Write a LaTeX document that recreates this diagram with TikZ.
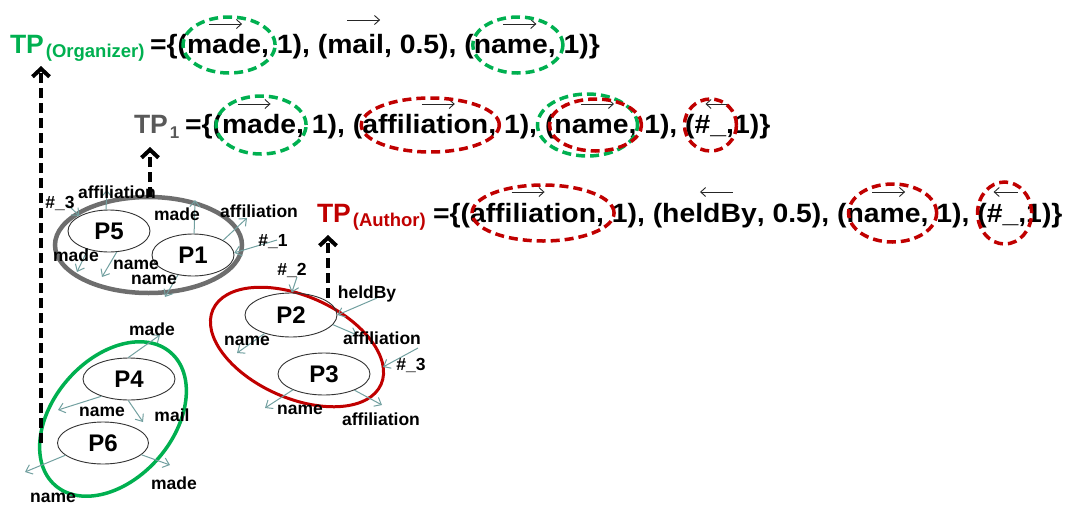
\documentclass[tikz,border=0pt]{standalone}
\usepackage{fontspec}
\setmainfont{Liberation Sans}
\newfontfamily\tfont[FakeStretch=1.07]{Liberation Sans}
\usetikzlibrary{arrows.meta,calc,shapes.geometric}
\definecolor{pgreen}{HTML}{00B050}
\definecolor{pred}{HTML}{C00000}
\definecolor{tpgray}{HTML}{595959}
\definecolor{grpgray}{HTML}{6E6E6E}
\definecolor{edgeteal}{HTML}{72A0A0}
\begin{document}
\begin{tikzpicture}[x=1pt,y=-1pt,
  main/.style={font=\tfont\bfseries\fontsize{26.5}{30}\selectfont, inner sep=0pt, outer sep=0pt, anchor=base west},
  tpbig/.style={font=\bfseries\fontsize{26.5}{30}\selectfont, inner sep=0pt, outer sep=0pt, anchor=base west},
  tpsub/.style={font=\bfseries\fontsize{18.5}{20}\selectfont, inner sep=0pt, outer sep=0pt, anchor=base west},
  lbl/.style={font=\bfseries\fontsize{17.5}{19}\selectfont, inner sep=0pt},
  pnode/.style={ellipse, draw=black!80, line width=0.9pt, inner sep=0pt, font=\bfseries\fontsize{24}{26}\selectfont},
  tarrow/.style={draw=edgeteal, line width=1pt, -{Straight Barb[length=6pt,width=10pt]}},
  warrow/.style={draw=black!85, line width=0.9pt, -{Straight Barb[length=5pt,width=9pt]}},
  darrow/.style={draw=black, line width=4pt, dash pattern=on 10pt off 5pt, -{Straight Barb[length=8pt,width=17pt]}},
  hlg/.style={draw=pgreen, line width=3.5pt, dash pattern=on 9pt off 5pt},
  hlr/.style={draw=pred, line width=3.5pt, dash pattern=on 9pt off 5pt},
  grp/.style={line width=3.5pt}
]
\useasboundingbox (0,0) rectangle (1068,509);

% ---------- line 1 ----------
\node[tpbig, text=pgreen] (tpO) at (10,53) {TP};
\node[tpsub, text=pgreen] (tpOs) at ($(tpO.base east)+(2,4)$) {(Organizer)};
\node[main] (l1a) at (150,53) {=\{(};
\node[main] (l1w1) at (l1a.base east) {made};
\node[main] (l1b) at (l1w1.base east) {, 1), (};
\node[main] (l1w2) at (l1b.base east) {mail};
\node[main] (l1c) at (l1w2.base east) {, 0.5), (};
\node[main] (l1w3) at (l1c.base east) {name};
\node[main] (l1d) at (l1w3.base east) {, 1)\}};
\draw[warrow] ($(l1w1.base)+(-15,-29)$) -- ($(l1w1.base)+(18,-29)$);
\draw[warrow] ($(l1w2.base)+(-8.5,-33)$) -- ($(l1w2.base)+(24.5,-33)$);
\draw[warrow] ($(l1w3.base)+(-7.5,-29)$) -- ($(l1w3.base)+(25.5,-29)$);
\draw[hlg] ($(l1w1.base)+(5,-8)$) ellipse [x radius=46pt, y radius=28pt];
\draw[hlg] ($(l1w3.base)+(7,-8)$) ellipse [x radius=45pt, y radius=28pt];

% ---------- line 2 ----------
\node[tpbig, text=tpgray] (tp1) at (134,133) {TP};
\node[tpsub, text=tpgray, font=\bfseries\fontsize{17}{19}\selectfont] (tp1s) at ($(tp1.base east)+(2,5)$) {1};
\node[main] (l2a) at (185,133) {=\{(};
\node[main] (l2w1) at (l2a.base east) {made};
\node[main] (l2b) at (l2w1.base east) {, 1), (};
\node[main] (l2w2) at (l2b.base east) {affiliation};
\node[main] (l2c) at (l2w2.base east) {, 1), (};
\node[main] (l2w3) at (l2c.base east) {name};
\node[main] (l2d) at (l2w3.base east) {, 1), (};
\node[main] (l2w4) at (l2d.base east) {\#\_};
\node[main] (l2e) at (l2w4.base east) {,1)\}};
\draw[warrow] ($(l2w1.base)+(-21.5,-29)$) -- ($(l2w1.base)+(11.5,-29)$);
\draw[warrow] ($(l2w2.base)+(-3.5,-29)$) -- ($(l2w2.base)+(29.5,-29)$);
\draw[warrow] ($(l2w3.base)+(-10.5,-29)$) -- ($(l2w3.base)+(22.5,-29)$);
\draw[warrow] ($(l2w4.base)+(19,-29)$) -- ($(l2w4.base)+(-5,-29)$);
\draw[hlg] ($(l2w1.base)+(2,-8)$) ellipse [x radius=45pt, y radius=29pt];
\draw[hlr] ($(l2w2.base)+(5,-8)$) ellipse [x radius=69pt, y radius=27pt];
\draw[hlg] ($(l2w3.base)+(-4,-8)$) ellipse [x radius=50pt, y radius=31pt];
\draw[hlr] ($(l2w3.base)+(4,-8)$) ellipse [x radius=46pt, y radius=26pt];
\draw[hlr] ($(l2w4.base)+(0,-8)$) ellipse [x radius=26pt, y radius=26pt];

% ---------- line 3 ----------
\node[tpbig, text=pred] (tpA) at (317,222) {TP};
\node[tpsub, text=pred] (tpAs) at ($(tpA.base east)+(2,4)$) {(Author)};
\node[main] (l3a) at (433,222) {=\{(};
\node[main] (l3w1) at (l3a.base east) {affiliation};
\node[main] (l3b) at (l3w1.base east) {, 1), (};
\node[main] (l3w2) at (l3b.base east) {heldBy};
\node[main] (l3c) at (l3w2.base east) {, 0.5), (};
\node[main] (l3w3) at (l3c.base east) {name};
\node[main] (l3d) at (l3w3.base east) {, 1), (};
\node[main] (l3w4) at (l3d.base east) {\#\_};
\node[main] (l3e) at (l3w4.base east) {,1)\}};
\draw[warrow] ($(l3w1.base)+(-21.5,-30)$) -- ($(l3w1.base)+(11.5,-30)$);
\draw[warrow] ($(l3w2.base)+(23.5,-30)$) -- ($(l3w2.base)+(-9.5,-30)$);
\draw[warrow] ($(l3w3.base)+(-11.5,-30)$) -- ($(l3w3.base)+(21.5,-30)$);
\draw[warrow] ($(l3w4.base)+(15,-30)$) -- ($(l3w4.base)+(-9,-30)$);
\draw[hlr] ($(l3w1.base)+(10,-9)$) ellipse [x radius=71pt, y radius=28pt];
\draw[hlr] ($(l3w3.base)+(9,-9)$) ellipse [x radius=44pt, y radius=29pt];
\draw[hlr] ($(l3w4.base)+(2,-9)$) ellipse [x radius=27pt, y radius=31pt];

% ---------- groups ----------
\draw[grp, draw=grpgray, line width=4.5pt] (148.5,245) ellipse [x radius=93.5pt, y radius=48pt];
\draw[grp, draw=pred, line width=3pt] (297,347) ellipse [x radius=92pt, y radius=51pt, rotate=-24];
\draw[grp, draw=pgreen] (113,419) ellipse [x radius=88pt, y radius=60pt, rotate=49];

% ---------- P nodes ----------
\node[pnode, minimum width=82pt, minimum height=42pt] (P5) at (109,231) {P5};
\node[pnode, minimum width=82pt, minimum height=42pt] (P1) at (193,255) {P1};
\node[pnode, minimum width=92pt, minimum height=44pt] (P2) at (291,315) {P2};
\node[pnode, minimum width=92pt, minimum height=42pt] (P3) at (324,374) {P3};
\node[pnode, minimum width=92pt, minimum height=42pt] (P4) at (129,379) {P4};
\node[pnode, minimum width=91pt, minimum height=42pt] (P6) at (103,443) {P6};

% ---------- dashed arrows ----------
\coordinate (d1s) at (41,443); \coordinate (d1e) at (41,66);
\coordinate (d2s) at (150,197); \coordinate (d2e) at (150,147);
\coordinate (d3s) at (328,298); \coordinate (d3e) at (328,235);
\draw[darrow] (d1s) -- (d1e);
\draw[darrow] (d2s) -- (d2e);
\draw[darrow] (d3s) -- (d3e);

% ---------- thin edges ----------
\coordinate (e1) at (68,205);
\coordinate (e2) at (107,190);
\coordinate (e3) at (195,200);
\coordinate (e4) at (247,218);
\coordinate (e5) at (277,240);
\coordinate (e6) at (77,272);
\coordinate (e7) at (102,277);
\coordinate (e8) at (165,297);
\coordinate (e9) at (297,277);
\coordinate (e10) at (377,298);
\coordinate (e11) at (357,335);
\coordinate (e12) at (237,353);
\coordinate (e13a) at (418,348);
\coordinate (e13b) at (383,367);
\coordinate (e14) at (265,408);
\coordinate (e15) at (382,405);
\coordinate (e16) at (160,335);
\coordinate (e17) at (58,410);
\coordinate (e18) at (143,422);
\coordinate (e19) at (25,472);
\coordinate (e20) at (170,465);
\draw[tarrow] (e1) -- (P5.153);
\draw[tarrow] (P5.98) -- (e2);
\draw[tarrow] (P1.87) -- (e3);
\draw[tarrow] (P1.26) -- (e4);
\draw[tarrow] (e5) -- (P1.3);
\draw[tarrow] (P5.221) -- (e6);
\draw[tarrow] (P5.290) -- (e7);
\draw[tarrow] (P1.233) -- (e8);
\draw[tarrow] (e9) -- (P2.88);
\draw[tarrow] (e10) -- (P2.0);
\draw[tarrow] (P2.347) -- (e11);
\draw[tarrow] (P2.215) -- (e12);
\draw[tarrow] (e13a) -- (e13b);
\draw[tarrow] (P3.207) -- (e14);
\draw[tarrow] (P3.332) -- (e15);
\draw[tarrow] (P4.92) -- (e16);
\draw[tarrow] (P4.212) -- (e17);
\draw[tarrow] (P4.268) -- (e18);
\draw[tarrow] (P6.198) -- (e19);
\draw[tarrow] (P6.343) -- (e20);

% ---------- labels ----------
\node[lbl] (lg1) at (60,203) {\#\_3};
\node[lbl] (lg2) at (117,192) {affiliation};
\node[lbl] (lg3) at (177,214) {made};
\node[lbl] (lg4) at (259,211) {affiliation};
\node[lbl] (lg5) at (273,242) {\#\_1};
\node[lbl] (lg6) at (76,255) {made};
\node[lbl] (lg7) at (136,265) {name};
\node[lbl] (lg8) at (154,280) {name};
\node[lbl] (lr1) at (292,270) {\#\_2};
\node[lbl] (lr2) at (367,294) {heldBy};
\node[lbl] (lr3) at (382,338) {affiliation};
\node[lbl] (lr4) at (247,341) {name};
\node[lbl] (lr5) at (411,365) {\#\_3};
\node[lbl] (lr6) at (300,410) {name};
\node[lbl] (lr7) at (381,419) {affiliation};
\node[lbl] (lgr1) at (152,329) {made};
\node[lbl] (lgr2) at (102,412) {name};
\node[lbl] (lgr3) at (172,415) {mail};
\node[lbl] (lgr4) at (174,483) {made};
\node[lbl] (lgr5) at (53,498) {name};
\end{tikzpicture}
\end{document}
